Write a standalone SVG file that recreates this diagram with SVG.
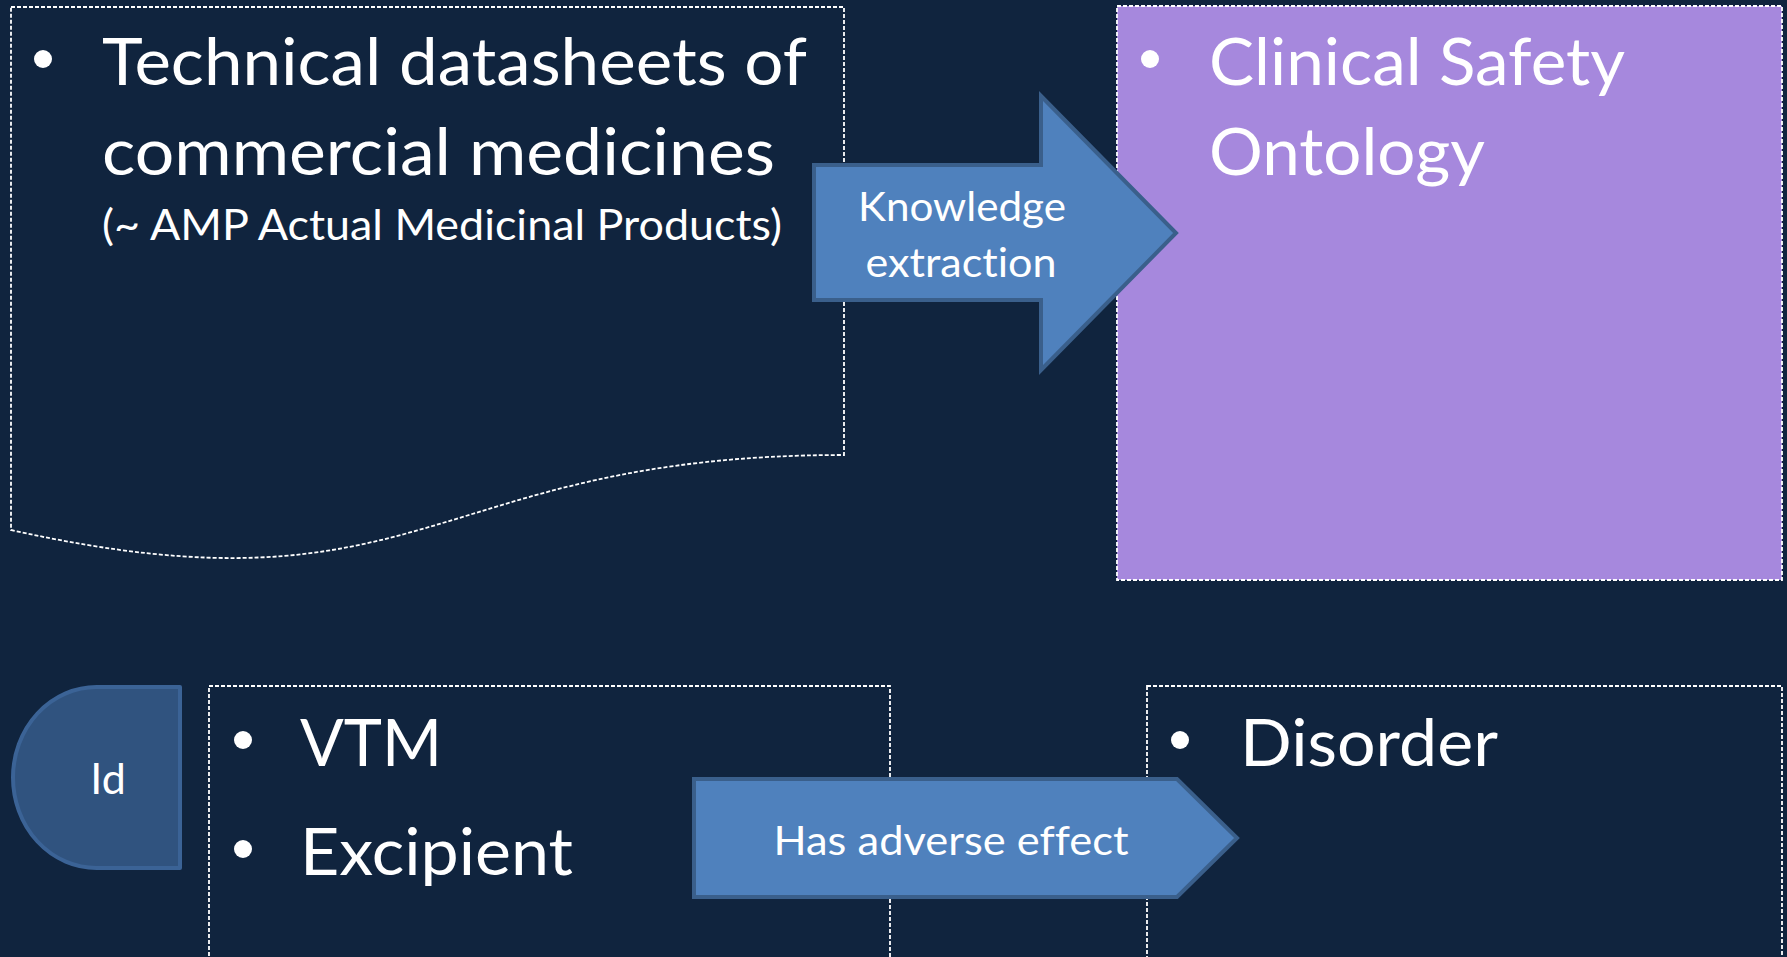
<svg xmlns="http://www.w3.org/2000/svg" width="1787" height="957" viewBox="0 0 1787 957">
<style>
.bg{fill:#10243e}
.dash{fill:none;stroke:#ffffff;stroke-width:1.8;stroke-dasharray:4 2}
.txt{fill:#ffffff;font-family:Lato,"Liberation Sans",sans-serif;font-variant-ligatures:none}
.big{font-size:65px}
.mid{font-size:42px}
.lbl{font-size:41px;text-anchor:middle}
.arrow{fill:#4f81bd;stroke:#3a5f8b;stroke-width:4;stroke-linejoin:miter}
.bul{fill:#ffffff}
</style>
<rect class="bg" x="0" y="0" width="1787" height="957"/>

<g id="node-datasheets">
  <path class="dash" d="M11,7 H844 V455 C428,455 428,623 11,530 Z"/>
  <circle class="bul" cx="43" cy="59" r="9"/>
  <text class="txt big" x="102" y="85" textLength="705" lengthAdjust="spacingAndGlyphs">Technical datasheets of</text>
  <text class="txt big" x="102" y="175" textLength="673" lengthAdjust="spacingAndGlyphs">commercial medicines</text>
  <text class="txt mid" x="102" y="240" textLength="680" lengthAdjust="spacingAndGlyphs">(~ AMP Actual Medicinal Products)</text>
</g>

<g id="node-ontology">
  <rect x="1117" y="6" width="665" height="574" fill="#a688dd" stroke="#ffffff" stroke-width="1.8" stroke-dasharray="4 2"/>
  <circle class="bul" cx="1150" cy="59" r="9"/>
  <text class="txt big" x="1209" y="85" textLength="416" lengthAdjust="spacingAndGlyphs">Clinical Safety</text>
  <text class="txt big" x="1209" y="175" textLength="276" lengthAdjust="spacingAndGlyphs">Ontology</text>
</g>

<g id="node-vtm">
  <rect class="dash" x="209" y="686" width="681" height="300"/>
  <circle class="bul" cx="243" cy="740" r="9"/>
  <text class="txt big" x="300" y="766" textLength="142" lengthAdjust="spacingAndGlyphs">VTM</text>
  <circle class="bul" cx="243" cy="849" r="9"/>
  <text class="txt big" x="300" y="875" textLength="273" lengthAdjust="spacingAndGlyphs">Excipient</text>
</g>

<g id="node-disorder">
  <rect class="dash" x="1147" y="686" width="635" height="300"/>
  <circle class="bul" cx="1180" cy="740" r="9"/>
  <text class="txt big" x="1240" y="766" textLength="258" lengthAdjust="spacingAndGlyphs">Disorder</text>
</g>

<g id="node-id">
  <path d="M180,687 V868 H96.5 A83.5 90.5 0 0 1 96.5 687 Z" fill="#30537f" stroke="#3b6396" stroke-width="4" stroke-linejoin="round"/>
  <text class="txt" x="108" y="794" font-size="43" text-anchor="middle">Id</text>
</g>

<g id="connectors">
  <g id="edge-knowledge-extraction">
    <path class="arrow" d="M814,165 H1041 V96 L1176,233 L1041,370 V300 H814 Z"/>
    <text class="txt lbl" x="962" y="221" textLength="208" lengthAdjust="spacingAndGlyphs">Knowledge</text>
    <text class="txt lbl" x="961" y="277" textLength="191" lengthAdjust="spacingAndGlyphs">extraction</text>
  </g>
  <g id="edge-has-adverse-effect">
    <path class="arrow" d="M694,779 H1177 L1237,838 L1177,897 H694 Z"/>
    <text class="txt lbl" x="951" y="855" textLength="355" lengthAdjust="spacingAndGlyphs">Has adverse effect</text>
  </g>
</g>
</svg>
